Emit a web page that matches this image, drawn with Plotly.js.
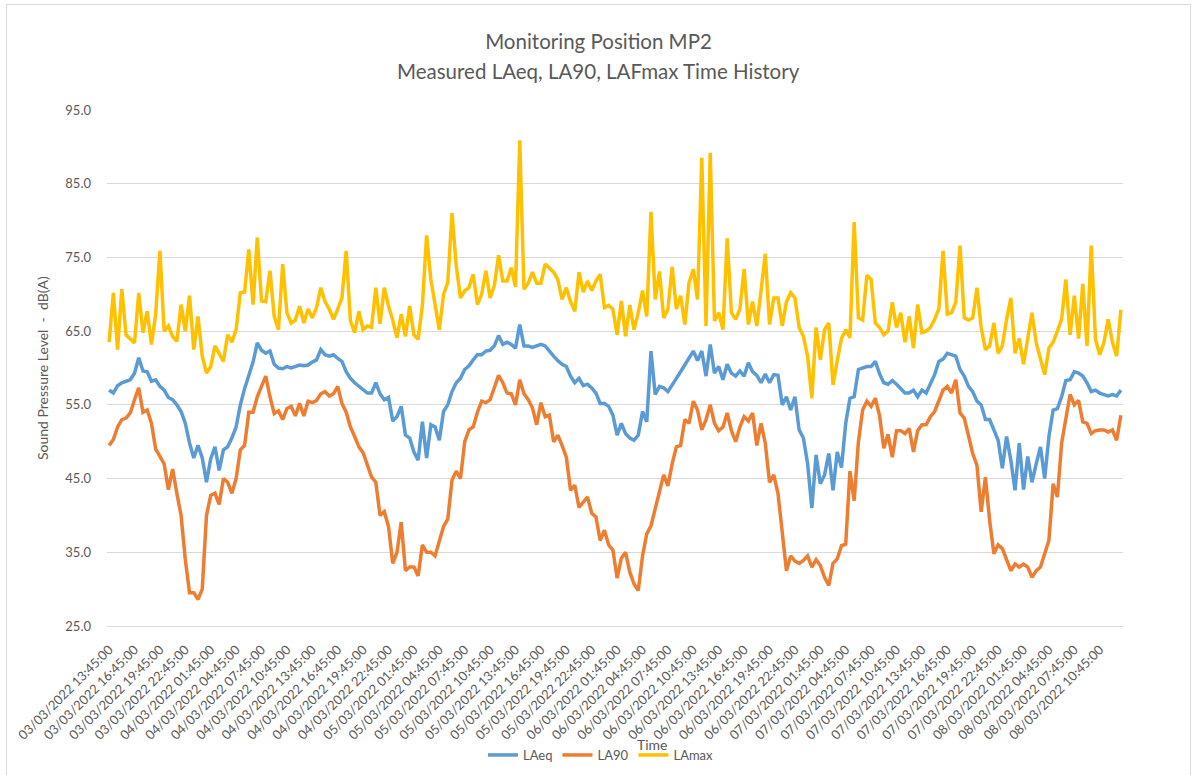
<!DOCTYPE html>
<html>
<head>
<meta charset="utf-8">
<script src="https://cdn.plot.ly/plotly-3.0.1.min.js"></script>
<style>
  html, body { margin: 0; padding: 0; background: #fff; overflow: hidden; }
  #chart { width: 1197px; height: 775px; }
  #frame { position: absolute; left: 6px; top: 4px; width: 1183px; height: 800px; border: 1px solid #d9d9d9; pointer-events: none; }
</style>
</head>
<body>
<div id="chart"></div>
<div id="frame"></div>
<script>
// 30 minute readings, first one at 03/03/2022 13:45
const laeq = [
  57.0, 56.6, 57.6, 58.0, 58.2, 58.4, 59.3, 61.4, 59.6, 59.5,
  58.2, 58.4, 57.5, 57.0, 56.0, 55.7, 55.0, 54.1, 52.5, 49.8,
  47.8, 49.5, 47.8, 44.5, 47.7, 49.3, 46.1, 48.9, 49.3, 50.5,
  52.0, 55.0, 57.2, 58.9, 60.8, 63.4, 62.4, 62.0, 62.3, 60.5,
  60.0, 59.9, 60.2, 60.0, 60.2, 60.4, 60.3, 60.4, 60.8, 61.1,
  62.5, 61.8, 61.6, 61.8, 61.3, 60.9, 59.5, 58.6, 58.0, 57.5,
  57.0, 56.6, 56.6, 58.0, 56.5, 55.7, 56.0, 52.8, 53.4, 54.8,
  50.9, 50.5, 48.6, 47.5, 52.7, 47.8, 52.3, 52.0, 50.2, 54.1,
  55.0, 56.8, 58.0, 58.6, 59.8, 60.3, 61.1, 61.8, 61.8, 62.3,
  62.4, 63.0, 64.4, 63.2, 63.5, 63.2, 62.7, 65.9, 63.0, 63.0,
  62.8, 63.0, 63.2, 63.0, 62.2, 61.6, 61.0, 60.5, 60.2, 58.9,
  58.0, 58.6, 57.6, 57.8, 57.3, 56.6, 55.2, 55.2, 54.8, 53.6,
  50.9, 52.5, 51.1, 50.5, 50.2, 50.9, 54.1, 52.7, 62.3, 56.4,
  57.5, 57.3, 56.8, 57.8, 58.6, 59.5, 60.5, 61.4, 62.3, 61.0,
  62.3, 58.9, 63.2, 59.3, 60.2, 58.4, 60.5, 59.3, 58.9, 59.6,
  58.9, 60.7, 59.5, 59.0, 58.0, 59.2, 58.0, 59.1, 59.0, 55.0,
  56.1, 54.3, 56.1, 51.6, 50.5, 47.0, 41.0, 48.2, 44.3, 45.5,
  48.4, 43.4, 48.6, 46.5, 52.5, 55.9, 56.1, 59.8, 60.0, 60.2,
  60.2, 60.9, 59.2, 58.0, 57.8, 58.3, 57.8, 57.2, 56.6, 56.6,
  57.0, 56.1, 57.0, 56.6, 57.8, 59.1, 60.9, 61.2, 62.0, 61.8,
  61.6, 59.8, 58.9, 57.5, 56.8, 55.5, 55.0, 53.0, 53.0, 51.6,
  50.2, 46.4, 50.7, 47.5, 43.4, 49.8, 43.5, 48.0, 44.5, 47.0,
  49.3, 45.0, 50.7, 54.3, 54.5, 56.1, 58.3, 58.4, 59.5, 59.3,
  58.9, 58.0, 56.8, 57.0, 56.6, 56.4, 56.2, 56.4, 56.2, 57.0
];

const la90 = [
  49.5, 50.3, 52.0, 53.0, 53.2, 53.9, 55.7, 57.3, 54.0, 54.3,
  52.5, 49.0, 48.0, 47.0, 43.5, 46.3, 43.0, 40.0, 34.0, 29.5,
  29.5, 28.6, 30.0, 40.0, 42.7, 43.0, 41.5, 45.0, 44.5, 43.0,
  45.0, 48.9, 49.5, 54.0, 54.0, 56.1, 57.5, 58.9, 56.1, 53.8,
  54.2, 53.0, 54.5, 54.8, 53.5, 55.2, 53.5, 55.5, 55.3, 55.6,
  56.5, 56.8, 56.2, 56.5, 57.5, 55.2, 54.0, 52.0, 50.7, 49.3,
  48.5, 47.0, 45.2, 44.5, 40.0, 40.5, 38.5, 33.5, 35.0, 39.1,
  32.5, 33.0, 33.0, 31.8, 36.0, 35.0, 35.0, 34.5, 36.5, 38.5,
  39.5, 44.8, 46.0, 45.0, 50.0, 51.6, 52.0, 54.0, 55.5, 55.3,
  55.7, 57.5, 59.0, 58.0, 56.6, 56.5, 55.0, 58.4, 56.5, 55.7,
  54.6, 52.3, 55.3, 53.4, 53.6, 50.0, 50.9, 49.5, 47.9, 43.4,
  44.1, 41.1, 41.8, 42.5, 40.3, 39.8, 36.6, 38.0, 36.0, 35.3,
  31.5, 34.2, 35.0, 32.3, 30.7, 29.8, 34.5, 37.5, 38.6, 41.0,
  43.4, 45.5, 44.0, 47.0, 49.3, 49.5, 53.0, 52.5, 55.5, 54.3,
  51.6, 53.0, 55.0, 52.5, 51.5, 52.0, 53.9, 51.5, 50.0, 52.0,
  53.4, 52.8, 53.9, 49.5, 52.5, 49.8, 44.5, 45.5, 43.0, 38.0,
  32.5, 34.5, 33.8, 33.5, 33.9, 34.5, 33.0, 34.0, 33.2, 31.6,
  30.5, 33.5, 34.1, 35.9, 36.1, 46.0, 42.0, 50.0, 54.3, 55.5,
  54.8, 55.9, 53.5, 49.1, 51.0, 47.9, 51.5, 51.5, 51.1, 51.8,
  48.6, 51.5, 52.3, 52.3, 53.4, 54.1, 55.7, 57.0, 57.5, 56.6,
  58.4, 53.9, 53.2, 50.7, 48.4, 46.8, 40.5, 45.2, 39.3, 34.8,
  36.0, 35.5, 34.1, 32.5, 33.4, 33.0, 33.4, 33.0, 31.6, 32.5,
  33.0, 34.8, 36.6, 44.3, 42.5, 49.8, 53.2, 56.4, 55.0, 55.6,
  52.7, 52.5, 51.1, 51.5, 51.6, 51.6, 51.3, 51.6, 50.2, 53.6
];

const lamax = [
  63.5, 70.2, 62.5, 70.7, 64.5, 64.0, 63.4, 70.2, 64.8, 67.7,
  63.2, 67.3, 75.9, 65.0, 65.7, 64.3, 63.6, 68.6, 65.0, 69.8,
  62.5, 67.0, 61.6, 59.3, 60.2, 63.0, 62.0, 60.9, 64.5, 63.5,
  65.2, 70.2, 70.3, 76.1, 68.6, 77.7, 69.1, 69.0, 73.2, 67.0,
  65.2, 74.1, 67.5, 66.1, 66.5, 68.4, 66.1, 68.0, 66.8, 68.2,
  70.9, 69.0, 68.0, 66.6, 68.0, 69.5, 75.9, 66.4, 64.8, 67.7,
  65.2, 65.7, 65.5, 70.9, 66.0, 70.9, 68.4, 66.5, 64.1, 67.3,
  64.3, 68.4, 64.5, 63.9, 68.5, 78.0, 72.0, 68.4, 65.2, 70.0,
  71.6, 81.0, 73.9, 69.5, 70.5, 70.9, 72.7, 68.6, 70.0, 73.2,
  69.5, 71.2, 75.3, 71.8, 71.8, 73.6, 71.0, 90.9, 70.7, 71.5,
  73.0, 71.5, 71.5, 74.1, 73.6, 73.0, 72.0, 69.3, 70.9, 69.0,
  67.7, 73.0, 70.3, 71.8, 70.5, 71.8, 72.7, 68.2, 68.5, 68.0,
  64.5, 69.1, 64.3, 68.5, 65.2, 67.5, 70.5, 67.0, 81.2, 69.3,
  73.1, 66.8, 68.0, 73.7, 68.0, 69.8, 65.9, 71.6, 73.4, 69.3,
  88.5, 65.7, 89.2, 66.4, 67.5, 65.2, 77.6, 67.5, 66.6, 68.0,
  73.4, 65.9, 69.0, 65.7, 70.5, 75.5, 65.9, 69.5, 69.5, 65.7,
  69.0, 70.2, 69.5, 65.5, 64.3, 61.6, 55.9, 65.5, 61.1, 65.2,
  66.1, 57.7, 61.0, 64.0, 65.2, 64.1, 79.8, 66.8, 66.5, 72.6,
  72.0, 66.1, 65.5, 64.5, 65.0, 68.9, 65.5, 67.5, 63.5, 67.0,
  62.7, 68.6, 64.8, 65.0, 65.5, 66.6, 68.0, 75.9, 67.3, 67.5,
  68.9, 76.6, 66.8, 66.5, 66.8, 70.9, 65.5, 62.5, 63.0, 66.1,
  62.0, 63.0, 66.6, 69.5, 62.0, 64.0, 60.5, 64.3, 67.5, 63.4,
  61.1, 59.1, 62.7, 63.5, 65.0, 66.6, 72.0, 64.5, 69.8, 64.0,
  71.4, 63.0, 76.6, 63.9, 61.8, 63.5, 66.6, 63.5, 61.6, 67.9
];

// time labels, dd/mm/yyyy hh:mm:ss
const startMs = Date.UTC(2022, 2, 3, 13, 45);
const stepMs = 30 * 60 * 1000;
function pad(n) { return String(n).padStart(2, "0"); }
function stamp(ms) {
    const d = new Date(ms);
    return pad(d.getUTCDate()) + "/" + pad(d.getUTCMonth() + 1) + "/" + d.getUTCFullYear() + " " +
        pad(d.getUTCHours()) + ":" + pad(d.getUTCMinutes()) + ":00";
}
const times = laeq.map((v, i) => stamp(startMs + i * stepMs));

const FONT = "Lato, 'Open Sans', sans-serif";
const GREY = "#595959";

const traces = [
    { x: times, y: laeq, name: "LAeq", type: "scatter", mode: "lines", line: { color: "#5B9BD5", width: 3.5 } },
    { x: times, y: la90, name: "LA90", type: "scatter", mode: "lines", line: { color: "#ED7D31", width: 3.5 } },
    { x: times, y: lamax, name: "LAmax", type: "scatter", mode: "lines", line: { color: "#FFC000", width: 3.5 } }
];

const layout = {
    width: 1197,
    height: 775,
    margin: { l: 107, r: 74, t: 110, b: 149 },
    paper_bgcolor: "#ffffff",
    plot_bgcolor: "#ffffff",
    font: { family: FONT, color: GREY, size: 13 },
    title: {
        text: "Monitoring Position MP2",
        x: 0.5, xanchor: "center",
        y: 0.946, yanchor: "middle",
        font: { family: FONT, size: 20.5, color: GREY }
    },
    xaxis: {
        type: "category",
        range: [-0.5, times.length - 0.5],
        tickmode: "linear", tick0: 0, dtick: 6,
        tickangle: -45,
        ticks: "",
        ticklabelstandoff: 10,
        showgrid: false,
        showline: true, linecolor: "#d9d9d9", linewidth: 1,
        zeroline: false,
        automargin: false,
        tickfont: { size: 13, color: GREY }
    },
    yaxis: {
        range: [25, 95],
        tick0: 25, dtick: 10,
        tickformat: ".1f",
        ticks: "",
        ticklabelstandoff: 15,
        gridcolor: "#d9d9d9", gridwidth: 1,
        showline: false, zeroline: false,
        automargin: false,
        tickfont: { size: 13, color: GREY }
    },
    showlegend: true,
    legend: {
        orientation: "h",
        xref: "container", yref: "container",
        x: 601 / 1197, xanchor: "center",
        y: 1 - 755 / 775, yanchor: "middle",
        font: { size: 13, color: GREY },
        traceorder: "normal"
    },
    annotations: [
        { text: "Measured LAeq, LA90, LAFmax Time History", xref: "paper", yref: "paper",
          x: (598.5 - 107) / 1016, y: (626 - 71) / 516, showarrow: false,
          xanchor: "center", yanchor: "middle", font: { size: 20.5, color: GREY } },
        { text: "Time", xref: "paper", yref: "paper", x: (652 - 107) / 1016, y: (626 - 744) / 516, showarrow: false,
          xanchor: "center", yanchor: "middle", font: { size: 14, color: GREY } },
        { text: "Sound Pressure Level  -  dB(A)", xref: "paper", yref: "paper", x: (42 - 107) / 1016, y: 0.5,
          showarrow: false, textangle: -90, xanchor: "center", yanchor: "middle", font: { size: 14, color: GREY } }
    ]
};

Plotly.newPlot("chart", traces, layout, { displayModeBar: false, staticPlot: true });
</script>
</body>
</html>
